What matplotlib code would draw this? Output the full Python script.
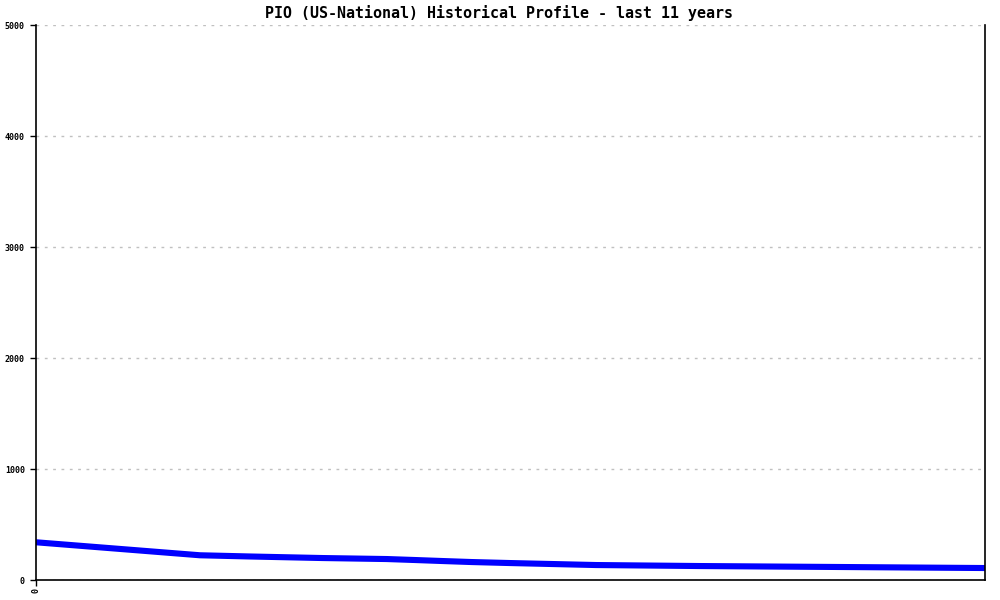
import matplotlib
matplotlib.use("Agg")
import matplotlib.pyplot as plt

# Data: month index over last 11 years vs. value
months = [0, 22.8, 29.8, 39.9, 48.8, 52.8, 56.6, 60.6, 65.9, 71.9, 77.9, 92.3, 112.5, 132]
values = [340, 223, 212, 198, 189, 180, 171, 162, 153, 144, 135, 126, 117, 108]
yticks = [0, 1000, 2000, 3000, 4000, 5000]
title = "PIO (US-National) Historical Profile - last 11 years"

fig = plt.figure(figsize=(10, 6), dpi=100)
ax = fig.add_axes([0.036, 0.0333, 0.949, 0.925])

ax.plot(months, values, color="#0000FF", linewidth=4.4, solid_capstyle="butt")

ax.set_xlim(0, 132)
ax.set_ylim(0, 5000)
ax.set_yticks(yticks)
ax.set_yticklabels([str(v) for v in yticks], family="DejaVu Sans Mono", fontsize=6, fontweight="bold")
ax.set_xticks([0])
ax.set_xticklabels(["0"], rotation=90, family="DejaVu Sans Mono", fontsize=6, fontweight="bold")

ax.tick_params(axis="y", direction="out", length=4.5, width=1, pad=3.5)
ax.tick_params(axis="x", direction="out", length=4, width=1, pad=2)

ax.grid(axis="y", color="#c0c0c0", linestyle=(0, (2, 4)), linewidth=1)
ax.set_axisbelow(True)

ax.spines["top"].set_visible(False)
for s in ["left", "right", "bottom"]:
    ax.spines[s].set_linewidth(1.2)
    ax.spines[s].set_color("black")

fig.text(0.499, 0.978, title, ha="center", va="center", family="DejaVu Sans Mono",
         fontsize=10.8, fontweight="bold")

fig.savefig("out.png", dpi=100)
